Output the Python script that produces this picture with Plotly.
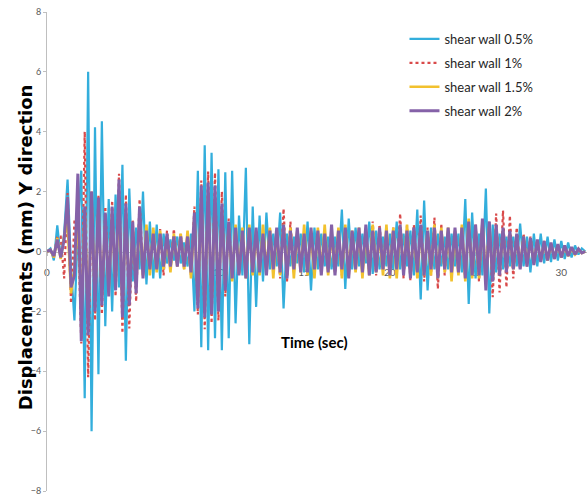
import plotly.graph_objects as go

# Sampling interval of the displacement records (s)
TIME_STEP = 0.2

# Y-direction displacement (mm) for each shear-wall ratio, one value per time step
disp_wall_05 = [
    0, 0.1, -0.3, 0.87, -0.2, 0.6, 2.4, -0.5, -2.3, 0.8,
    2.7, -4.9, 6.0, -6.0, 4.15, -4.1, 4.35, -2.5, 1.75, -2.0,
    1.9, -1.2, 2.9, -3.65, 2.1, -1.0, 0.8, -0.6, 2.0, -1.1,
    1.0, -0.9, 0.9, -0.9, 0.6, -0.4, 0.4, -0.3, 0.5, -0.4,
    0.3, -0.5, 0.6, -2.0, 2.7, -3.2, 3.55, -3.3, 3.3, -2.9,
    2.75, -3.3, 2.65, -2.9, 2.7, -2.4, 1.2, -0.8, 2.8, -3.1,
    1.5, -1.85, 1.2, -1.0, 1.3, -0.6, 0.6, -0.5, 1.3, -1.9,
    0.6, -0.5, 0.5, -0.4, 0.6, -0.7, 1.0, -1.3, 0.8, -0.6,
    0.6, -0.5, 0.5, -0.6, 0.5, -0.5, 1.4, -1.25, 1.1, -0.6,
    0.8, -0.5, 0.6, -0.4, 1.0, -0.75, 0.7, -0.6, 0.5, -0.5,
    0.6, -0.6, 1.0, -0.6, 0.6, -0.5, 0.7, -0.8, 1.4, -1.6,
    1.7, -1.3, 0.8, -0.6, 0.6, -0.5, 0.5, -0.6, 0.6, -0.5,
    0.6, -0.7, 1.75, -1.75, 1.3, -0.9, 0.6, -0.8, 2.1, -2.07,
    0.9, -0.7, 0.6, -0.6, 0.5, -0.5, 0.5, -0.5, 0.93, -0.5,
    0.5, -0.7, 0.6, -0.5, 0.6, -0.4, 0.5, -0.35, 0.4, -0.3,
    0.35, -0.25, 0.3, -0.2, 0.2, -0.1, 0.1, 0.0,
]

disp_wall_1 = [
    0, 0.05, -0.2, 0.5, 0.5, -0.9, 1.95, -1.73, 1.0, 1.0,
    -3.07, 4.0, -4.2, 2.0, -2.3, 1.9, -2.1, 1.5, -1.2, 1.7,
    -1.5, 2.6, -2.73, 1.9, -2.57, 1.03, -1.67, 1.75, -0.8, 0.8,
    -0.6, 0.7, -0.5, 0.75, -0.8, 0.7, -0.6, 0.75, -0.5, 0.6,
    -0.6, 0.5, -0.8, 1.5, -2.1, 2.37, -2.6, 2.67, -2.4, 2.63,
    -2.3, 2.0, -1.5, 1.1, -0.87, 0.8, -0.8, 0.7, -0.8, 0.7,
    -0.7, 0.6, -0.6, 0.7, -0.7, 0.8, -0.6, 0.7, -0.9, 1.43,
    -1.0, 1.0, -0.7, 0.7, -0.6, 0.6, -0.6, 0.6, -0.5, 0.6,
    -0.6, 0.5, -0.6, 0.7, -0.7, 0.6, -0.8, 0.8, -0.7, 0.7,
    -0.6, 0.7, -0.6, 0.8, -0.7, 1.0, -0.8, 0.9, -0.6, 0.7,
    -0.6, 0.8, -0.7, 1.27, -0.9, 0.87, -0.97, 0.9, -0.9, 1.2,
    -1.0, 0.8, -0.8, 1.13, -1.25, 0.93, -0.8, 0.7, -0.6, 0.7,
    -0.7, 0.8, -0.9, 1.0, -0.8, 0.9, -1.0, 0.9, -0.9, 1.0,
    -1.53, 1.27, -1.37, 1.37, -1.2, 1.2, -0.9, 0.8, -0.6, 0.6,
    -0.5, 0.5, -0.4, 0.4, -0.35, 0.35, -0.3, 0.3, -0.25, 0.25,
    -0.2, 0.2, -0.15, 0.15, -0.1, 0.1, -0.05, 0.0,
]

disp_wall_15 = [
    0, 0.05, -0.2, 0.45, -0.25, 0.5, 0.93, -1.4, -0.6, 1.2,
    -2.1, 1.47, -2.4, 1.7, -1.6, 1.4, -1.5, 1.0, -1.3, 1.2,
    -1.1, 1.7, -1.8, 1.3, -1.5, 0.8, -1.1, 1.0, -0.8, 0.9,
    -0.8, 0.8, -0.7, 0.7, -0.6, 0.5, -0.7, 0.6, -0.5, 0.6,
    -0.6, 0.7, -0.9, 1.2, -1.6, 1.8, -1.9, 1.9, -1.7, 1.7,
    -1.6, 1.3, -1.1, 0.9, -1.0, 0.9, -0.75, 0.8, -0.9, 0.9,
    -0.8, 0.7, -0.8, 0.9, -0.7, 0.8, -0.9, 0.7, -0.8, 0.9,
    -0.8, 0.8, -0.9, 0.7, -0.7, 0.9, -0.8, 0.7, -0.9, 0.8,
    -0.7, 0.9, -0.8, 0.6, -0.7, 0.8, -0.9, 0.9, -0.8, 0.7,
    -0.7, 0.8, -0.9, 0.7, -0.8, 0.9, -0.7, 0.6, -0.8, 0.9,
    -0.9, 0.8, -0.9, 0.8, -0.7, 0.9, -0.8, 0.7, -0.9, 0.8,
    -0.8, 0.7, -0.8, 0.9, -0.9, 0.8, -0.7, 0.8, -1.0, 0.7,
    -0.8, 0.9, -1.0, 1.1, -0.9, 0.8, -0.9, 1.0, -1.0, 0.9,
    -0.9, 0.8, -0.7, 0.7, -0.6, 0.6, -0.6, 0.5, -0.5, 0.5,
    -0.45, 0.4, -0.4, 0.35, -0.3, 0.3, -0.3, 0.25, -0.2, 0.2,
    -0.2, 0.15, -0.15, 0.1, -0.1, 0.05, -0.05, 0.0,
]

disp_wall_2 = [
    0, 0.05, -0.15, 0.4, -0.2, 0.4, 1.8, -1.2, -0.8, 2.6,
    -3.0, 1.5, -2.8, 2.0, -2.0, 1.8, -1.8, 1.3, -1.5, 1.5,
    -1.3, 2.4, -2.2, 1.6, -1.8, 1.0, -1.4, 1.5, -0.9, 0.7,
    -0.6, 0.6, -0.6, 0.6, -0.5, 0.6, -0.5, 0.5, -0.5, 0.5,
    -0.5, 0.5, -0.7, 1.3, -1.9, 2.2, -2.2, 2.3, -2.1, 2.2,
    -2.0, 1.6, -1.3, 1.0, -0.9, 0.8, -0.8, 0.7, -0.9, 0.8,
    -0.7, 0.8, -0.7, 0.6, -0.8, 0.7, -0.6, 0.8, -0.7, 0.9,
    -0.9, 0.7, -0.6, 0.8, -0.7, 0.6, -0.7, 0.8, -0.6, 0.7,
    -0.8, 0.6, -0.7, 0.9, -0.8, 0.7, -0.6, 0.8, -0.9, 0.7,
    -0.6, 0.8, -0.7, 0.9, -0.8, 0.7, -0.7, 0.8, -0.6, 0.7,
    -0.8, 0.7, -0.6, 0.9, -0.8, 0.7, -0.9, 0.8, -0.7, 0.9,
    -0.8, 0.7, -0.6, 0.8, -0.9, 0.7, -0.6, 0.8, -0.7, 0.8,
    -0.7, 0.8, -0.9, 1.0, -0.8, 0.9, -0.8, 1.1, -1.3, 1.0,
    -1.0, 0.9, -0.8, 0.8, -0.7, 0.7, -0.6, 0.6, -0.6, 0.5,
    -0.5, 0.45, -0.45, 0.4, -0.35, 0.35, -0.3, 0.3, -0.25, 0.25,
    -0.2, 0.2, -0.15, 0.15, -0.1, 0.08, -0.05, 0.0,
]

time_s = [round(i * TIME_STEP, 2) for i in range(len(disp_wall_05))]

series_names = ["shear wall 0.5%", "shear wall 1%", "shear wall 1.5%", "shear wall 2%"]
x_ticks = [0, 5, 10, 15, 20, 25, 30]
y_ticks = [-8, -6, -4, -2, 0, 2, 4, 6, 8]

series_values = [disp_wall_05, disp_wall_1, disp_wall_15, disp_wall_2]
series_lines = [
    dict(color="#33AEDC", width=2.2),
    dict(color="#D94A4A", width=2.2, dash="dot"),
    dict(color="#F2C12E", width=2.6),
    dict(color="#8562A8", width=3.0),
]

fig = go.Figure()
for name, values, line in zip(series_names, series_values, series_lines):
    fig.add_trace(go.Scatter(
        x=time_s, y=values, mode="lines", name=name, line=line, legendgroup=name,
    ))

legend_font = dict(family="Lato, Liberation Sans Narrow, sans-serif", size=13, color="#262626")

fig.update_layout(
    width=587, height=500,
    margin=dict(l=47, r=0, t=12, b=9),
    plot_bgcolor="white", paper_bgcolor="white",
    legend=dict(
        x=0.662, y=0.975, xanchor="left", yanchor="top",
        font=legend_font,
        bgcolor="rgba(0,0,0,0)", itemwidth=30, tracegroupgap=4,
    ),
    xaxis=dict(
        range=[0, 31.5], tickvals=x_ticks, anchor="free", position=0.5,
        showline=True, linecolor="#BFBFBF", linewidth=1,
        ticks="outside", ticklen=3, tickcolor="#BFBFBF",
        ticklabelstandoff=8,
        tickfont=dict(family="Lato, Arial, sans-serif", size=10, color="#595959"),
        showgrid=False, zeroline=False, layer="below traces",
    ),
    yaxis=dict(
        range=[-8, 8], tickvals=y_ticks,
        showline=True, linecolor="#BFBFBF", linewidth=1,
        ticks="outside", ticklen=3, tickcolor="#BFBFBF",
        tickfont=dict(family="Lato, Arial, sans-serif", size=9, color="#595959"),
        showgrid=False, zeroline=False,
    ),
    annotations=[
        dict(
            text="Displacements (mm) Y direction", textangle=-90,
            xref="paper", yref="paper", x=-0.0407, y=0.509,
            xanchor="center", yanchor="middle", showarrow=False,
            font=dict(family="DejaVu Sans, Verdana, sans-serif", size=18, color="black", weight="bold"),
        ),
        dict(
            text="Time (sec)", xref="x", yref="y", x=15.6, y=-3.03,
            xanchor="center", yanchor="middle", showarrow=False,
            font=dict(family="Lato, sans-serif", size=15, color="black", weight="bold"),
        ),
    ],
)

fig.write_html("out.html")
